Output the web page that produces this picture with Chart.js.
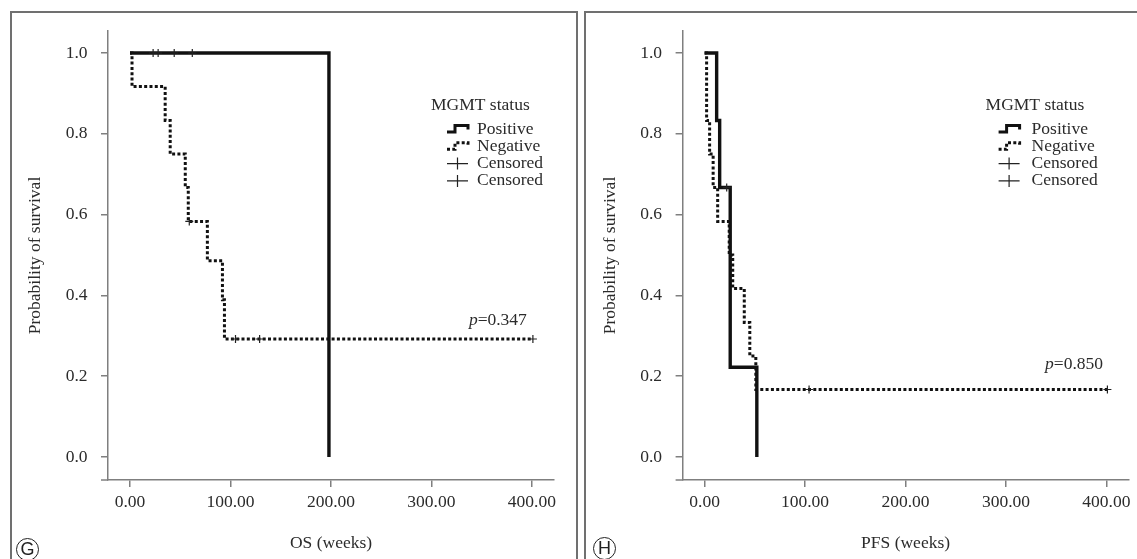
<!DOCTYPE html>
<html>
<head>
<meta charset="utf-8">
<script src="https://cdn.jsdelivr.net/npm/chart.js@4.4.0/dist/chart.umd.min.js"></script>
<style>
  body { margin: 0; background: #fff; width: 1137px; height: 559px; overflow: hidden; position: relative; }
  .panel { position: absolute; border: 2px solid #707070; border-bottom: none; box-sizing: border-box; }
  #panelG { left: 10px; top: 11px; width: 568px; height: 560px; }
  #panelH { left: 584px; top: 11px; width: 570px; height: 560px; }
  canvas { position: absolute; top: 0; }
  #chartG { left: 0; }
  #chartH { left: 577px; }
  .tag { position: absolute; width: 23px; height: 23px; box-sizing: border-box; border: 1.3px solid #222; border-radius: 50%;
         font-family: "Liberation Sans", Arial, sans-serif; font-size: 18px; line-height: 21px; text-align: center; color: #222; }
</style>
</head>
<body>
<div class="panel" id="panelG"></div>
<div class="panel" id="panelH"></div>
<canvas id="chartG" width="577" height="559"></canvas>
<canvas id="chartH" width="560" height="559"></canvas>
<div class="tag" style="left:16px; top:538px;">G</div>
<div class="tag" style="left:593px; top:537px;">H</div>

<script>
// axes
const xTicks = [0, 100, 200, 300, 400];
const yTicks = [0, 0.2, 0.4, 0.6, 0.8, 1.0];
const legendTitle = 'MGMT status';
const legendLabels = ['Positive', 'Negative', 'Censored', 'Censored'];

// OS (weeks)
const osPositiveWeeks = [0, 198];
const osPositiveSurv = [1, 0];
const osNegativeWeeks = [0, 2, 35, 40, 55, 58, 77, 92, 94, 401];
const osNegativeSurv = [1, 0.917, 0.833, 0.75, 0.667, 0.583, 0.486, 0.389, 0.292, 0.292];
const osPositiveCensWeeks = [23, 28, 44, 62];
const osPositiveCensSurv = [1, 1, 1, 1];
const osNegativeCensWeeks = [59, 105, 129, 401];
const osNegativeCensSurv = [0.583, 0.292, 0.292, 0.292];

// PFS (weeks)
const pfsPositiveWeeks = [0, 12, 15, 25.5, 52];
const pfsPositiveSurv = [1, 0.833, 0.667, 0.222, 0];
const pfsNegativeWeeks = [0, 2, 5, 8.5, 13, 24.5, 28, 39.5, 45, 51, 401];
const pfsNegativeSurv = [1, 0.833, 0.75, 0.667, 0.583, 0.5, 0.417, 0.333, 0.25, 0.167, 0.167];
const pfsPositiveCensWeeks = [22];
const pfsPositiveCensSurv = [0.667];
const pfsNegativeCensWeeks = [104, 401];
const pfsNegativeCensSurv = [0.167, 0.167];

const FONT = '"Liberation Serif", "Times New Roman", serif';
const TEXT = '#2b2b2b';
const AXIS = '#7f7f7f';
const INK = '#111';

function pts(xs, ys) {
  return xs.map((x, i) => ({ x: x, y: ys[i] }));
}

// legende, valeur p et petit bout d'axe x a gauche
const kmDecor = {
  id: 'kmDecor',
  afterDraw(chart, args, opts) {
    const ctx = chart.ctx;
    const area = chart.chartArea;
    ctx.save();

    ctx.strokeStyle = AXIS;
    ctx.lineWidth = 1.5;
    ctx.beginPath();
    ctx.moveTo(area.left - 7, area.bottom);
    ctx.lineTo(area.left, area.bottom);
    ctx.stroke();

    // legende
    const lx = area.left + opts.legendDx;
    const ly = area.top + opts.legendDy;
    ctx.fillStyle = TEXT;
    ctx.font = '17.5px ' + FONT;
    ctx.textBaseline = 'middle';
    ctx.textAlign = 'left';
    ctx.fillText(legendTitle, lx, ly);
    const sx = lx + opts.symbolDx;
    legendLabels.forEach((label, i) => {
      const y = ly + 24 + i * 17.3;
      ctx.fillStyle = TEXT;
      ctx.fillText(label, lx + opts.textDx, y);
      ctx.strokeStyle = INK;
      if (i < 2) {
        ctx.lineWidth = 3;
        ctx.setLineDash(i === 0 ? [] : [3, 2.3]);
        ctx.beginPath();
        ctx.moveTo(sx, y + 3);
        ctx.lineTo(sx + 8, y + 3);
        ctx.lineTo(sx + 8, y - 3.5);
        ctx.lineTo(sx + 21, y - 3.5);
        ctx.lineTo(sx + 21, y + 0.5);
        ctx.stroke();
        ctx.setLineDash([]);
      } else {
        ctx.lineWidth = 1.2;
        ctx.strokeStyle = '#222';
        ctx.beginPath();
        ctx.moveTo(sx, y);
        ctx.lineTo(sx + 21, y);
        ctx.moveTo(sx + 10.5, y - 6);
        ctx.lineTo(sx + 10.5, y + 6);
        ctx.stroke();
      }
    });

    // valeur p
    const px = chart.scales.x.getPixelForValue(opts.pAt[0]);
    const py = chart.scales.y.getPixelForValue(opts.pAt[1]);
    ctx.fillStyle = TEXT;
    ctx.textAlign = 'left';
    ctx.font = '17.5px ' + FONT;
    const rest = '=' + opts.pValue;
    const wRest = ctx.measureText(rest).width;
    ctx.font = 'italic 17.5px ' + FONT;
    const wP = ctx.measureText('p').width;
    ctx.fillText('p', px - wRest - wP, py);
    ctx.font = '17.5px ' + FONT;
    ctx.fillText(rest, px - wRest, py);

    ctx.restore();
  }
};

function makeKM(id, c) {
  const lineBase = { type: 'line', stepped: 'before', pointRadius: 0, borderColor: INK, fill: false, borderCapStyle: 'butt', borderJoinStyle: 'miter' };
  const censBase = { type: 'scatter', pointStyle: 'cross', pointRadius: 4, pointBorderWidth: 1.2, borderColor: '#222', backgroundColor: '#222' };
  return new Chart(document.getElementById(id), {
    data: {
      datasets: [
        Object.assign({}, censBase, { label: 'Censored', data: c.posCens }),
        Object.assign({}, censBase, { label: 'Censored', data: c.negCens }),
        Object.assign({}, lineBase, { label: 'Positive', data: c.pos, borderWidth: 3.4 }),
        Object.assign({}, lineBase, { label: 'Negative', data: c.neg, borderWidth: 3, borderDash: [3, 2.3] })
      ]
    },
    options: {
      responsive: false,
      animation: false,
      layout: { padding: { left: 0, top: 31, right: c.padRight, bottom: 0 } },
      plugins: {
        legend: { display: false },
        tooltip: { enabled: false },
        kmDecor: c.decor
      },
      scales: {
        x: {
          type: 'linear', min: -21.9, max: 422,
          afterBuildTicks: s => { s.ticks = xTicks.map(v => ({ value: v })); },
          afterFit: s => { s.height = 79; },
          grid: { drawOnChartArea: false, drawTicks: true, tickLength: 7, color: AXIS, lineWidth: 1.5 },
          border: { display: true, color: AXIS, width: 1.5 },
          ticks: { padding: 5, color: TEXT, autoSkip: false, maxRotation: 0, font: { family: FONT, size: 17.5 }, callback: v => v.toFixed(2) },
          title: { display: true, text: c.xTitle, color: TEXT, font: { family: FONT, size: 17.5 }, padding: { top: 0, bottom: 5.5 } }
        },
        y: {
          type: 'linear', min: -0.057, max: 1.0545,
          afterBuildTicks: s => { s.ticks = yTicks.map(v => ({ value: v })); },
          afterFit: s => { s.width = c.yWidth; },
          grid: { drawOnChartArea: false, drawTicks: true, tickLength: 7, color: AXIS, lineWidth: 1.5 },
          border: { display: true, color: AXIS, width: 1.5 },
          ticks: { padding: 13.5, color: TEXT, autoSkip: false, font: { family: FONT, size: 17.5 }, callback: v => v.toFixed(1) },
          title: { display: true, text: 'Probability of survival', color: TEXT, font: { family: FONT, size: 17.5 }, padding: { top: c.yTitlePad, bottom: 0 } }
        }
      }
    },
    plugins: [kmDecor]
  });
}

makeKM('chartG', {
  pos: pts(osPositiveWeeks, osPositiveSurv),
  neg: pts(osNegativeWeeks, osNegativeSurv),
  posCens: pts(osPositiveCensWeeks, osPositiveCensSurv),
  negCens: pts(osNegativeCensWeeks, osNegativeCensSurv),
  xTitle: 'OS (weeks)',
  padRight: 23, yWidth: 108, yTitlePad: 25,
  decor: { legendDx: 323, legendDy: 74, symbolDx: 16, textDx: 46, pAt: [395, 0.339], pValue: '0.347' }
});

makeKM('chartH', {
  pos: pts(pfsPositiveWeeks, pfsPositiveSurv),
  neg: pts(pfsNegativeWeeks, pfsNegativeSurv),
  posCens: pts(pfsPositiveCensWeeks, pfsPositiveCensSurv),
  negCens: pts(pfsNegativeCensWeeks, pfsNegativeCensSurv),
  xTitle: 'PFS (weeks)',
  padRight: 8.5, yWidth: 105.6, yTitlePad: 23,
  decor: { legendDx: 303, legendDy: 74, symbolDx: 13, textDx: 46, pAt: [396.7, 0.23], pValue: '0.850' }
});
</script>
</body>
</html>
